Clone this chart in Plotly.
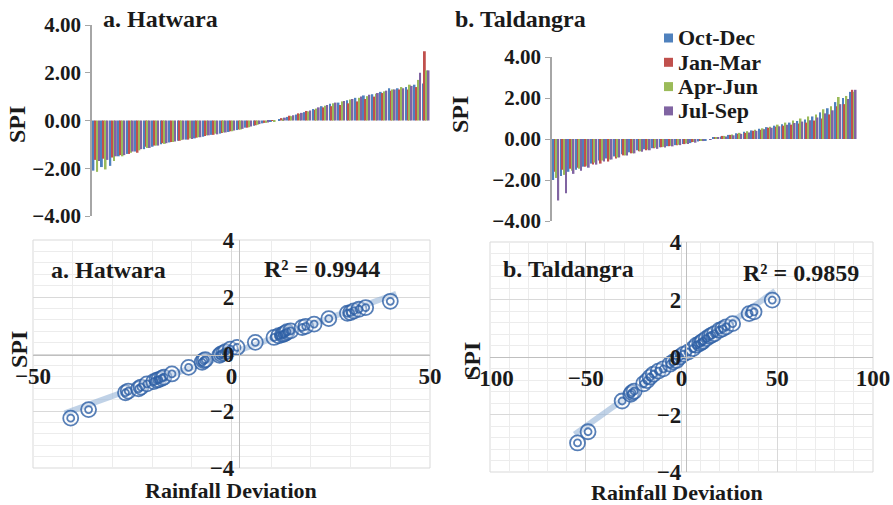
import numpy as np
import plotly.graph_objects as go

# ---------------- data ----------------
seasons = ["Oct-Dec", "Jan-Mar", "Apr-Jun", "Jul-Sep"]
season_colors = ["#4F81BD", "#C0504D", "#9BBB59", "#8064A2"]
years_idx = list(range(1, 41))

hat_oct_dec = [-2.10, -1.95, -1.90, -1.50, -1.40, -1.30, -1.20, -1.10, -1.00, -0.92,
               -0.85, -0.80, -0.75, -0.68, -0.60, -0.55, -0.48, -0.40, -0.30, -0.22,
               -0.12, -0.05, 0.05, 0.15, 0.25, 0.35, 0.48, 0.60, 0.70, 0.75,
               0.85, 0.95, 1.05, 1.10, 1.20, 1.35, 1.35, 1.40, 1.50, 1.55]
hat_jan_mar = [-1.65, -1.60, -1.55, -1.45, -1.40, -1.35, -1.10, -1.05, -0.95, -0.90,
               -0.85, -0.80, -0.72, -0.65, -0.60, -0.52, -0.45, -0.38, -0.30, -0.20,
               -0.10, -0.02, 0.10, 0.20, 0.30, 0.40, 0.45, 0.55, 0.60, 0.65,
               0.72, 0.80, 0.90, 1.00, 1.15, 1.25, 1.30, 1.30, 1.40, 2.90]
hat_apr_jun = [-2.15, -2.05, -1.70, -1.50, -1.35, -1.25, -1.15, -1.05, -0.98, -0.90,
               -0.82, -0.75, -0.70, -0.62, -0.55, -0.50, -0.45, -0.38, -0.28, -0.18,
               -0.10, -0.03, 0.08, 0.18, 0.28, 0.38, 0.50, 0.62, 0.72, 0.80,
               0.88, 0.95, 1.02, 1.12, 1.22, 1.30, 1.40, 1.50, 1.70, 2.10]
hat_jul_sep = [-1.70, -1.65, -1.50, -1.45, -1.30, -1.20, -1.15, -1.05, -0.95, -0.88,
               -0.80, -0.78, -0.70, -0.62, -0.58, -0.50, -0.42, -0.35, -0.25, -0.15,
               -0.08, 0.00, 0.12, 0.22, 0.32, 0.42, 0.55, 0.65, 0.75, 0.82,
               0.90, 1.00, 1.08, 1.15, 1.25, 1.30, 1.35, 1.45, 2.00, 2.10]

tal_oct_dec = [-2.00, -1.80, -1.60, -1.50, -1.35, -1.20, -1.05, -0.95, -0.85, -0.75,
               -0.65, -0.55, -0.50, -0.45, -0.40, -0.35, -0.30, -0.25, -0.20, -0.12,
               -0.05, 0.05, 0.12, 0.20, 0.28, 0.35, 0.42, 0.50, 0.58, 0.65,
               0.72, 0.80, 0.88, 0.95, 1.10, 1.30, 1.50, 1.80, 2.00, 2.30]
tal_jan_mar = [-1.60, -1.50, -1.45, -1.40, -1.35, -1.25, -1.20, -1.10, -0.95, -0.80,
               -0.70, -0.60, -0.55, -0.45, -0.40, -0.35, -0.30, -0.25, -0.15, -0.10,
               0.00, 0.10, 0.15, 0.20, 0.25, 0.30, 0.40, 0.45, 0.55, 0.60,
               0.65, 0.70, 0.75, 0.80, 0.90, 1.00, 1.20, 1.60, 1.70, 2.40]
tal_apr_jun = [-1.90, -1.75, -1.55, -1.45, -1.30, -1.15, -1.05, -1.00, -0.90, -0.80,
               -0.70, -0.60, -0.50, -0.42, -0.38, -0.33, -0.28, -0.22, -0.15, -0.08,
               0.00, 0.08, 0.15, 0.22, 0.30, 0.38, 0.45, 0.52, 0.60, 0.70,
               0.80, 0.90, 1.00, 1.10, 1.20, 1.45, 1.60, 2.05, 2.10, 2.30]
tal_jul_sep = [-3.00, -2.65, -1.70, -1.55, -1.40, -1.25, -1.10, -1.00, -0.90, -0.80,
               -0.70, -0.62, -0.55, -0.48, -0.42, -0.36, -0.30, -0.24, -0.18, -0.10,
               -0.03, 0.05, 0.12, 0.18, 0.25, 0.32, 0.40, 0.48, 0.55, 0.62,
               0.70, 0.78, 0.85, 0.92, 1.05, 1.25, 1.40, 1.70, 1.95, 2.40]

hat_dev = [-40.5, -36.0, -26.7, -26.0, -23.4, -22.8, -21.3, -19.6, -18.8, -18.3,
           -17.5, -17.0, -15.0, -10.8, -7.4, -7.0, -6.6, -3.0, -2.6, -2.0,
           -1.5, -0.3, 1.4, 6.0, 10.7, 11.9, 12.8, 13.2, 13.6, 14.0,
           14.9, 17.8, 18.7, 20.8, 24.5, 29.2, 30.0, 30.8, 32.1, 33.8, 40.0]
hat_spi = [-2.25, -1.95, -1.36, -1.30, -1.22, -1.16, -1.05, -0.97, -0.92, -0.90,
           -0.85, -0.81, -0.70, -0.47, -0.29, -0.23, -0.20, -0.05, 0.00, 0.03,
           0.08, 0.17, 0.23, 0.41, 0.58, 0.64, 0.68, 0.70, 0.73, 0.78,
           0.81, 0.93, 0.97, 1.05, 1.24, 1.43, 1.45, 1.51, 1.57, 1.63, 1.85]

tal_dev = [-54.3, -48.8, -31.0, -26.5, -25.9, -24.7, -19.8, -18.0, -16.4, -14.7,
           -12.1, -9.5, -6.0, -4.3, -2.6, -0.9, 0.9, 3.4, 6.0, 7.8,
           9.5, 10.5, 11.2, 12.9, 14.7, 15.8, 17.2, 19.8, 21.5, 23.3,
           26.7, 35.3, 37.9, 47.4]
tal_spi = [-2.99, -2.60, -1.53, -1.30, -1.24, -1.19, -0.93, -0.82, -0.70, -0.60,
           -0.49, -0.41, -0.25, -0.17, -0.12, 0.00, 0.09, 0.17, 0.29, 0.41,
           0.47, 0.51, 0.55, 0.64, 0.72, 0.76, 0.81, 0.93, 0.98, 1.05,
           1.16, 1.51, 1.57, 1.98]

hat_r2 = "R² = 0.9944"
tal_r2 = "R² = 0.9859"

# ---------------- figure ----------------
W, H = 893, 505
FONT = "Times New Roman, Liberation Serif, serif"
TXT = "#1a1a1a"


def fx(px):
    return px / W


def fy(py):
    return 1 - py / H


fig = go.Figure()

hat_series = [hat_oct_dec, hat_jan_mar, hat_apr_jun, hat_jul_sep]
tal_series = [tal_oct_dec, tal_jan_mar, tal_apr_jun, tal_jul_sep]

for name, col, vals in zip(seasons, season_colors, hat_series):
    fig.add_trace(go.Bar(x=years_idx, y=vals, name=name, marker_color=col,
                         marker_line_width=0, showlegend=False,
                         xaxis="x", yaxis="y"))
for name, col, vals in zip(seasons, season_colors, tal_series):
    fig.add_trace(go.Bar(x=years_idx, y=vals, name=name, marker_color=col,
                         marker_line_width=0, showlegend=False,
                         xaxis="x2", yaxis="y2"))

MARK = "rgba(45,95,165,0.8)"
TREND = "rgba(150,180,215,0.6)"
for dev, spi, xa, ya in [(hat_dev, hat_spi, "x3", "y3"), (tal_dev, tal_spi, "x4", "y4")]:
    k, b = np.polyfit(dev, spi, 1)
    xl = [min(dev) - 1.5, max(dev) + 1.5]
    fig.add_trace(go.Scatter(x=xl, y=[k * v + b for v in xl], mode="lines",
                             line=dict(color=TREND, width=6), showlegend=False,
                             xaxis=xa, yaxis=ya, hoverinfo="skip"))
    fig.add_trace(go.Scatter(x=dev, y=spi, mode="markers", showlegend=False,
                             marker=dict(symbol="circle", size=15,
                                         color="rgba(255,255,255,0.35)",
                                         line=dict(color=MARK, width=1.8)),
                             xaxis=xa, yaxis=ya))
    fig.add_trace(go.Scatter(x=dev, y=spi, mode="markers", showlegend=False,
                             marker=dict(symbol="circle-open", size=7, color=MARK,
                                         line=dict(color=MARK, width=1.8)),
                             xaxis=xa, yaxis=ya))

bar_tickfont = dict(family=FONT, size=21, color=TXT, weight="bold")
sc_tickfont = dict(family=FONT, size=23, color=TXT, weight="bold")

bar_y_common = dict(range=[-4, 4], dtick=2, tickformat=".2f", showgrid=False,
                    zeroline=False, showline=True, linecolor="#a6a6a6", linewidth=1.5,
                    ticks="outside", ticklen=5, tickcolor="#a6a6a6", tickfont=bar_tickfont,
                    automargin=False)
bar_x_common = dict(range=[0.5, 40.5], showticklabels=False, showgrid=False,
                    zeroline=False, showline=False, ticks="", automargin=False)

sc_grid = dict(showgrid=True, gridcolor="#d9d9d9", gridwidth=1, zeroline=False,
               showline=True, linecolor="#bfbfbf", linewidth=1.2, ticks="",
               tickfont=sc_tickfont, automargin=False)

fig.update_layout(
    width=W, height=H, margin=dict(l=0, r=0, t=0, b=0),
    paper_bgcolor="white", plot_bgcolor="white",
    barmode="group", bargap=0.12, bargroupgap=0.0,
    font=dict(family=FONT, color=TXT),
    showlegend=False,
    xaxis=dict(domain=[fx(92), fx(430)], anchor="y", **bar_x_common),
    yaxis=dict(domain=[fy(216), fy(25)], anchor="x", **bar_y_common),
    xaxis2=dict(domain=[fx(552), fx(857)], anchor="y2", **bar_x_common),
    yaxis2=dict(domain=[fy(221), fy(57)], anchor="x2", **bar_y_common),
    xaxis3=dict(domain=[fx(33), fx(430)], range=[-50, 50], dtick=50,
                anchor="free", position=fy(355),
                minor=dict(dtick=10, showgrid=True, gridcolor="#ececec"),
                **sc_grid),
    yaxis3=dict(domain=[fy(468), fy(240)], range=[-4, 4], dtick=2,
                anchor="free", position=fx(239),
                minor=dict(dtick=0.4, showgrid=True, gridcolor="#ececec"),
                **sc_grid),
    xaxis4=dict(domain=[fx(490), fx(873)], range=[-100, 100], dtick=50,
                anchor="free", position=fy(357),
                minor=dict(dtick=10, showgrid=True, gridcolor="#ececec"),
                **sc_grid),
    yaxis4=dict(domain=[fy(472), fy(242)], range=[-4, 4], dtick=2,
                anchor="free", position=fx(686),
                minor=dict(dtick=0.4, showgrid=True, gridcolor="#ececec"),
                **sc_grid),
)

# plot-area borders for scatter panels
for xr, yr in [("x3 domain", "y3 domain"), ("x4 domain", "y4 domain")]:
    fig.add_shape(type="rect", xref=xr, yref=yr, x0=0, x1=1, y0=0, y1=1,
                  line=dict(color="#d9d9d9", width=1), layer="below")


def add_text(text, x, y, size=24, angle=0, xanchor="center"):
    fig.add_annotation(text=text, x=fx(x), y=fy(y), xref="paper", yref="paper",
                       showarrow=False, xanchor=xanchor, yanchor="middle",
                       textangle=angle,
                       font=dict(family=FONT, size=size, color=TXT, weight="bold"))


# legend (bar panel b)
for i, (name, col) in enumerate(zip(seasons, season_colors)):
    yc = 38 + i * 24.3
    fig.add_shape(type="rect", xref="paper", yref="paper",
                  x0=fx(664), x1=fx(673), y0=fy(yc + 4.5), y1=fy(yc - 4.5),
                  fillcolor=col, line=dict(width=0))
    add_text(name, 676, yc, size=22, xanchor="left")

add_text("a. Hatwara", 101, 19, xanchor="left")
add_text("b. Taldangra", 453, 19, xanchor="left")
add_text("SPI", 17, 125, angle=-90)
add_text("SPI", 460, 115, angle=-90)
add_text("a. Hatwara", 49, 270, xanchor="left")
add_text(hat_r2, 262, 269, xanchor="left")
add_text("b. Taldangra", 501, 269, xanchor="left")
add_text(tal_r2, 741, 273, xanchor="left")
add_text("Rainfall Deviation", 231, 490, size=22)
add_text("Rainfall Deviation", 677, 492, size=22)
add_text("SPI", 19, 350, angle=-90)
add_text("SPI", 472, 360, angle=-90)

fig.write_html("out.html", config={"displayModeBar": False},
               post_script="document.body.style.margin='0px';")
